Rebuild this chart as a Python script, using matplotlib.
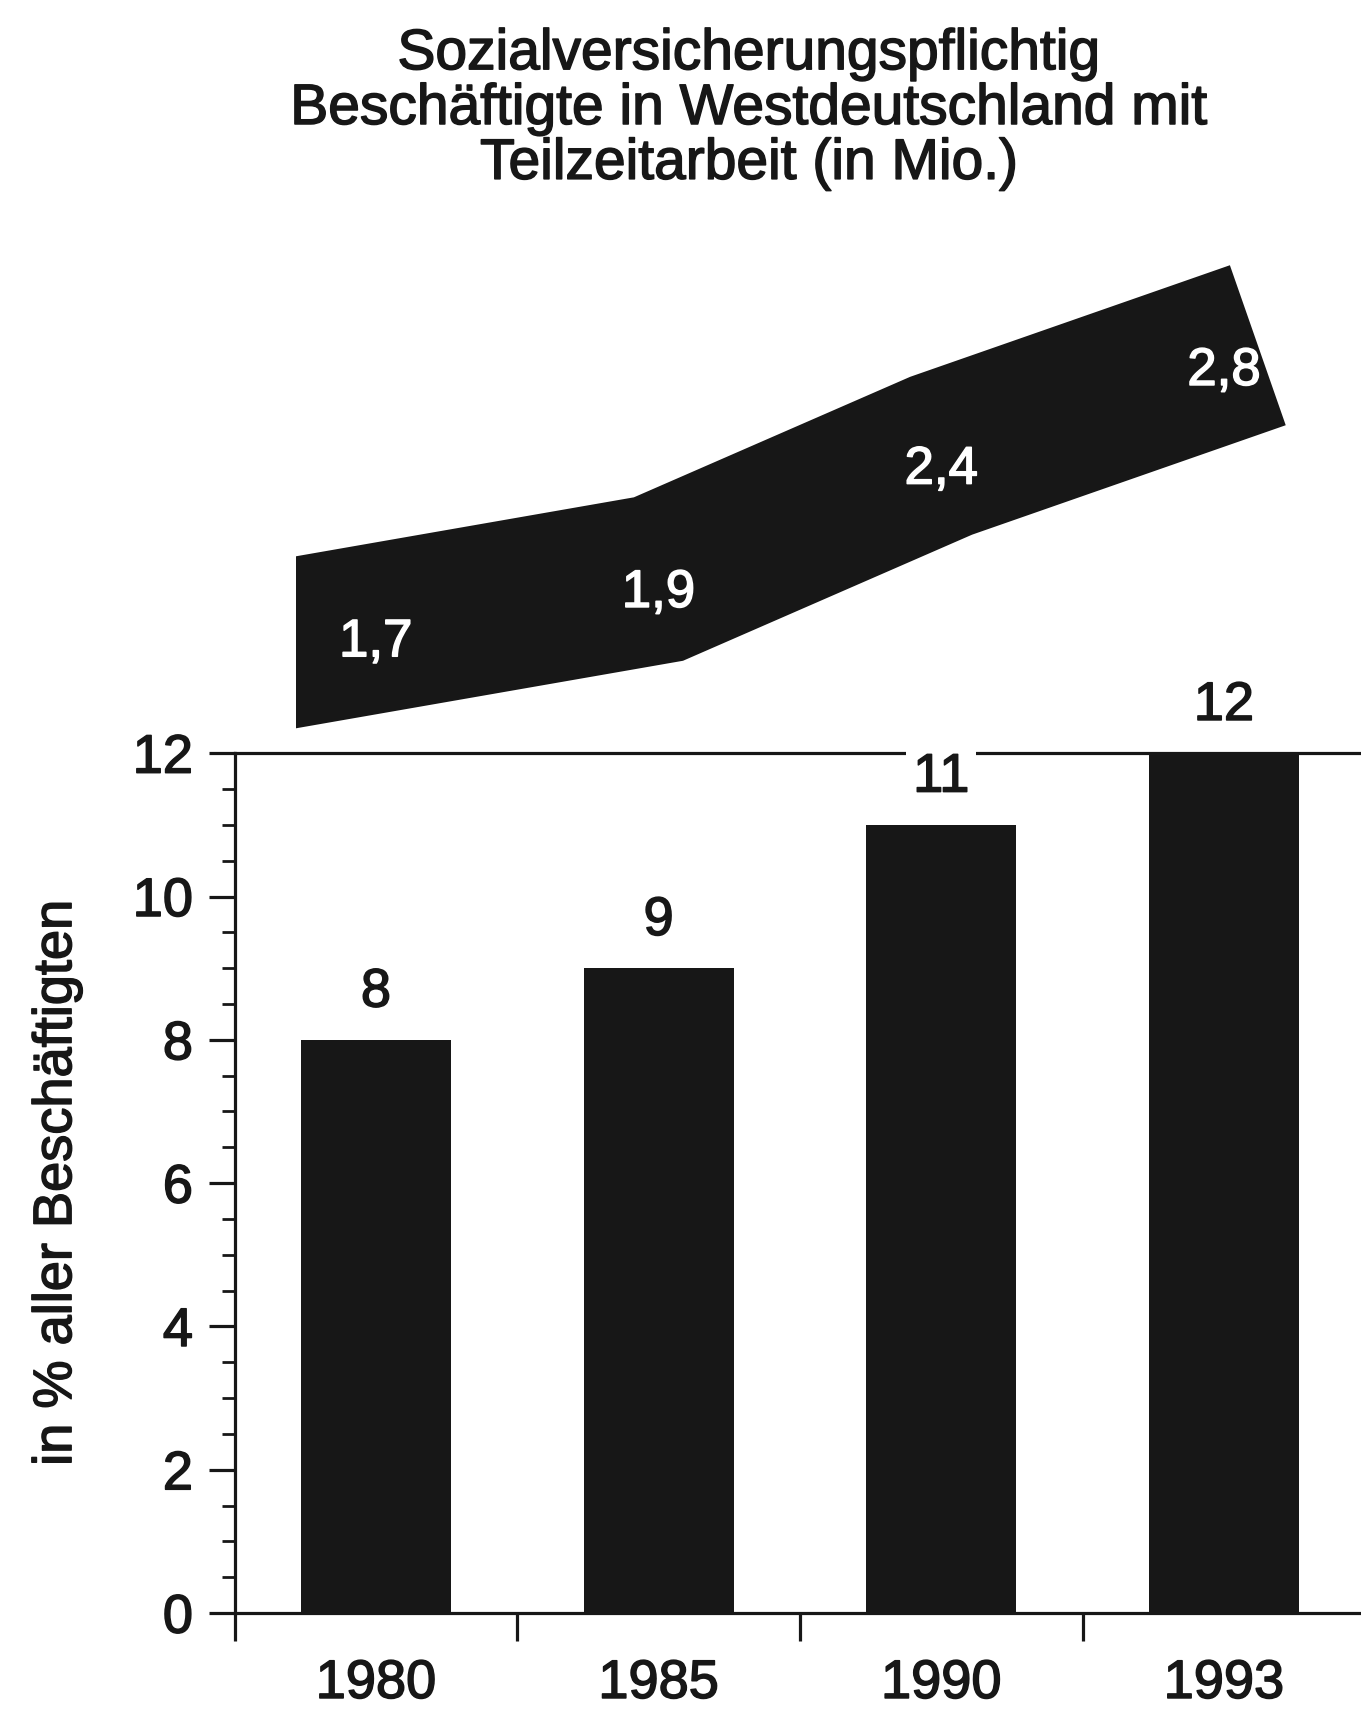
import numpy as np
import matplotlib.pyplot as plt
import matplotlib.patheffects as pe
from matplotlib.ticker import MultipleLocator

# Teilzeitarbeit in Westdeutschland
years = ['1980', '1985', '1990', '1993']
share_pct = [8, 9, 11, 12]             # in % aller Beschäftigten
part_time_mio = [1.7, 1.9, 2.4, 2.8]   # sozialversicherungspflichtig Beschäftigte, Mio.
band_labels = ['1,7', '1,9', '2,4', '2,8']

plt.rcParams['font.family'] = ['Liberation Sans', 'DejaVu Sans']
INK = '#171717'
FS = 39


def heavy(color):
    # slightly thicker glyphs, closer to the printed Helvetica
    return [pe.withStroke(linewidth=1.1, foreground=color)]


fig = plt.figure(figsize=(13.61, 17.11), dpi=100)
fig.patch.set_facecolor('white')

# --- bar panel (percent of all employees) ---
ax = fig.add_axes([0.1724, 0.0572, 0.8276, 0.5026])
x = np.arange(len(years))
ax.bar(x, share_pct, width=0.53, color=INK, zorder=2)
ax.set_xlim(-0.5, 3.485)
ax.set_ylim(0, 12)

for side in ['left', 'bottom', 'top']:
    ax.spines[side].set_linewidth(2.3)
    ax.spines[side].set_color(INK)
ax.spines['right'].set_visible(False)

ax.set_yticks(np.arange(0, 13, 2))
ax.yaxis.set_minor_locator(MultipleLocator(0.5))
ax.tick_params(axis='y', which='major', direction='out', length=19, width=2.3,
               pad=11, labelsize=FS, colors=INK)
ax.tick_params(axis='y', which='minor', direction='out', length=9.5, width=2.0, colors=INK)

# separators between the years, labels centred under the bars
ax.set_xticks(x - 0.5, labels=[''] * len(x))
ax.set_xticks(x, labels=years, minor=True)
ax.tick_params(axis='x', which='major', direction='out', length=20, width=2.3, colors=INK)
ax.tick_params(axis='x', which='minor', length=0, pad=33, labelsize=FS, colors=INK)

for lab in ax.get_yticklabels() + ax.get_xticklabels(minor=True):
    lab.set_path_effects(heavy(INK))

ax.set_ylabel('in % aller Beschäftigten', fontsize=FS, color=INK,
              path_effects=heavy(INK))
ax.yaxis.set_label_coords(-0.1354, 0.5)

for xi, v in zip(x, share_pct):
    ax.annotate(str(v), (xi, v), xytext=(0, 34), textcoords='offset points',
                ha='center', va='center', fontsize=FS, color=INK, zorder=4,
                path_effects=heavy(INK),
                bbox=dict(facecolor='white', edgecolor='none', pad=5))

# --- ribbon for the absolute numbers (Mio.) ---
ax2 = fig.add_axes([0.2173, 0.5598, 0.7827, 0.3402])
ax2.set_xlim(-0.283, 3.485)
ax2.set_ylim(1.194, 3.554)
ax2.axis('off')

v = np.array(part_time_mio, dtype=float)
# stretch the ends a little so the ribbon starts at the left edge and runs past the last year
left_ext, right_ext = 0.45, 0.12
bx = np.concatenate([[x[0] - left_ext], x, [x[-1] + right_ext]])
by = np.concatenate([[v[0] - left_ext * (v[1] - v[0])], v,
                     [v[-1] + right_ext * (v[-1] - v[-2])]])
ax2.plot(bx, by, color=INK, lw=122, solid_capstyle='butt',
         solid_joinstyle='miter', clip_on=True)

for xi, vi, lab in zip(x, v, band_labels):
    ax2.annotate(lab, (xi, vi), xytext=(0, -10), textcoords='offset points',
                 ha='center', va='center', fontsize=38, color='white',
                 path_effects=heavy('white'))

fig.text(749 / 1361, 1 - 109 / 1711,
         'Sozialversicherungspflichtig\nBeschäftigte in Westdeutschland mit\nTeilzeitarbeit (in Mio.)',
         ha='center', va='center', fontsize=41, linespacing=1.02, color=INK,
         path_effects=heavy(INK))

fig.savefig('out.png', dpi=100, facecolor='white')
